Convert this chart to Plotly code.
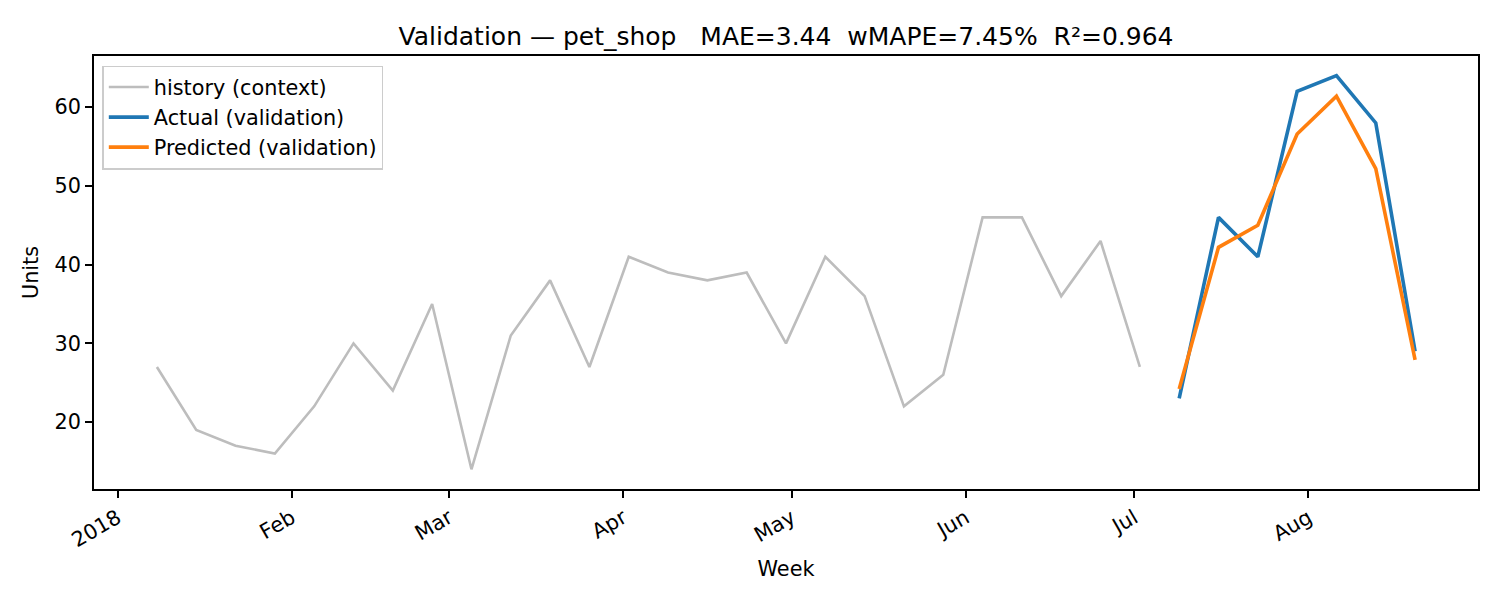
import pandas as pd
import plotly.graph_objects as go

# weekly history (context), weeks starting Monday
hist_dates = pd.date_range("2018-01-08", periods=26, freq="7D")
hist_units = [27, 19, 17, 16, 22, 30, 24, 35, 14, 31, 38, 27, 41,
              39, 38, 39, 30, 41, 36, 22, 26, 46, 46, 36, 43, 27]

# validation window
val_dates = pd.date_range("2018-07-09", periods=7, freq="7D")
val_actual = [23, 46, 41, 62, 64, 58, 29]
val_pred = [24.2, 42.2, 45.0, 56.6, 61.4, 52.2, 27.9]

tick_dates = ["2018-01-01", "2018-02-01", "2018-03-01", "2018-04-01",
              "2018-05-01", "2018-06-01", "2018-07-01", "2018-08-01"]
tick_text = ["2018", "Feb", "Mar", "Apr", "May", "Jun", "Jul", "Aug"]

title = "Validation — pet_shop   MAE=3.44  wMAPE=7.45%  R²=0.964"

fig = go.Figure()

fig.add_trace(go.Scatter(
    x=hist_dates, y=hist_units, mode="lines",
    name="history (context)",
    line=dict(color="#bdbdbd", width=2.6),
))
fig.add_trace(go.Scatter(
    x=val_dates, y=val_actual, mode="lines",
    name="Actual (validation)",
    line=dict(color="#1f77b4", width=3.6),
))
fig.add_trace(go.Scatter(
    x=val_dates, y=val_pred, mode="lines",
    name="Predicted (validation)",
    line=dict(color="#ff7f0e", width=3.6),
))

# matplotlib-style 5% padding around the data
x_all = list(hist_dates) + list(val_dates)
span = x_all[-1] - x_all[0]
y_all = hist_units + val_actual + val_pred
y_span = max(y_all) - min(y_all)

FONT = "DejaVu Sans"
axis_common = dict(
    showline=True, linecolor="black", linewidth=1.5, mirror=True,
    ticks="outside", ticklen=7, tickwidth=1.5, tickcolor="black",
    showgrid=False, zeroline=False,
    tickfont=dict(family=FONT, size=20.8, color="black"),
)

# page body has an 8px margin, so the figure is a bit smaller than the window
fig.update_layout(
    width=1492, height=592,
    paper_bgcolor="white", plot_bgcolor="white",
    margin=dict(l=86, r=22, t=48, b=111),
    font=dict(family=FONT, size=20.8, color="black"),
    title=dict(
        text=title, x=0.5, xref="paper", xanchor="center",
        y=1 - 28 / 592, yref="container", yanchor="middle",
        font=dict(family=FONT, size=25, color="black"),
    ),
    showlegend=True,
    legend=dict(
        x=0.006, y=0.978, xanchor="left", yanchor="top",
        bgcolor="rgba(255,255,255,0.8)", bordercolor="#cccccc", borderwidth=1.5,
        font=dict(family=FONT, size=20.8, color="black"),
        tracegroupgap=0, itemwidth=40,
    ),
)

fig.update_xaxes(
    **axis_common,
    range=[x_all[0] - span * 0.05, x_all[-1] + span * 0.05],
    tickvals=tick_dates, ticktext=tick_text, tickangle=-30,
    title=dict(text="Week", standoff=10,
               font=dict(family=FONT, size=20.8, color="black")),
)
fig.update_yaxes(
    **axis_common,
    range=[min(y_all) - y_span * 0.05, max(y_all) + y_span * 0.05],
    tickvals=[20, 30, 40, 50, 60],
    title=dict(text="Units", standoff=10,
               font=dict(family=FONT, size=20.8, color="black")),
)

fig.write_html("out.html")
